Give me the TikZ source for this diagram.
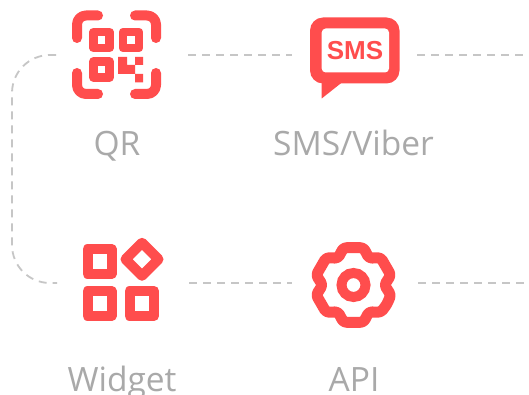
\documentclass[tikz,border=0pt]{standalone}
\usepackage{fontspec}
\setmainfont{Open Sans}
\newfontfamily\smsfont{Liberation Sans}
\definecolor{iconred}{HTML}{FF4D4D}
\definecolor{labelgrey}{HTML}{A9A9A9}
\definecolor{dashgrey}{HTML}{C6C6C6}
\tikzset{
 ln/.style={draw=iconred,line width=10pt,line cap=round,line join=round,rounded corners=9pt},
 sq/.style={draw=iconred,line width=10pt,line join=round},
 qs/.style={draw=iconred,line width=8.5pt,line join=round},
 px/.style={fill=iconred,draw=none},
 lab/.style={text=labelgrey,font=\fontsize{33.5}{34}\selectfont,anchor=base,inner sep=0pt},
 conn/.style={draw=dashgrey,line width=1.8pt,dash pattern=on 8pt off 6pt}
}
\begin{document}
\begin{tikzpicture}[x=1pt,y=-1pt]
\useasboundingbox (0,0) rectangle (529,395);
\fill[white] (0,0) rectangle (529,395);
% connector end points
\coordinate (qrL) at (56,55);
\coordinate (qrR) at (188,55);
\coordinate (smsL) at (292,55);
\coordinate (smsR) at (417,55);
\coordinate (wL) at (57,283);
\coordinate (wR) at (189,283);
\coordinate (apiL) at (292,283);
\coordinate (apiR) at (418,283);
\coordinate (eT) at (529,55);
\coordinate (eB) at (529,283);
\draw[conn] (qrR) -- (smsL);
\draw[conn] (smsR) -- (eT);
\draw[conn] (wR) -- (apiL);
\draw[conn] (apiR) -- (eB);
\draw[conn,rounded corners=38pt] (qrL) -- (12,55) -- (12,283) -- (wL);
% QR
\draw[ln] (98,15.5) -- (77,15.5) -- (77,38);
\draw[ln] (135,15.5) -- (156,15.5) -- (156,38);
\draw[ln] (98,94) -- (77,94) -- (77,73);
\draw[ln] (135,94) -- (156,94) -- (156,73);
\draw[qs] (93.5,32) rectangle (109.5,48);
\draw[qs] (123,32) rectangle (139,48);
\draw[qs] (93.5,61.5) rectangle (109.5,77.5);
\fill[px] (118,57) -- (127,57) -- (127,65) -- (135,65) -- (135,57) -- (143,57) -- (143,65) -- (135,65) -- (135,74) -- (143,74) -- (143,82.5) -- (135,82.5) -- (135,74) -- (127,74) -- (118,74) -- cycle;
% SMS
\fill[iconred,rounded corners=13pt] (310,17.5) rectangle (399.5,83.5);
\fill[iconred] (321.7,75) -- (321.7,98.5) -- (345,80) -- cycle;
\fill[white,rounded corners=4pt] (321.7,28.5) rectangle (389,72.5);
\node[text=iconred,font=\fontsize{26}{26}\selectfont\smsfont\bfseries,anchor=base,inner sep=0pt] (smstext) at (355,60) {SMS};
% Widget
\draw[sq] (87.5,249) rectangle (111.5,274);
\draw[sq] (87.5,291) rectangle (111.5,316);
\draw[sq] (129.5,291) rectangle (154,316);
\draw[iconred,line width=10pt,line join=round] (142,242.8) -- (158.5,259.3) -- (142,275.8) -- (125.5,259.3) -- cycle;
% API gear
\begin{scope}[shift={(353.5,285)}]
\draw[iconred,line width=11pt,line join=round,rounded corners=3pt]
 (30:38.6) -- (45:38.6) -- (60:31) -- (75:38.6) -- (105:38.6) -- (120:31) -- (135:38.6) -- (165:38.6) -- (180:31) -- (195:38.6) -- (225:38.6) -- (240:31) -- (255:38.6) -- (285:38.6) -- (300:31) -- (315:38.6) -- (345:38.6) -- (0:31) -- (15:38.6) -- cycle;
\draw[iconred,line width=10pt] (0,0) circle (12);
\end{scope}
% labels
\node[lab] (qr) at (117,156) {QR};
\node[lab] (sms) at (353.5,156) {SMS/Viber};
\node[lab] (widget) at (122,391) {Widget};
\node[lab] (api) at (354,391) {API};
\end{tikzpicture}
\end{document}
